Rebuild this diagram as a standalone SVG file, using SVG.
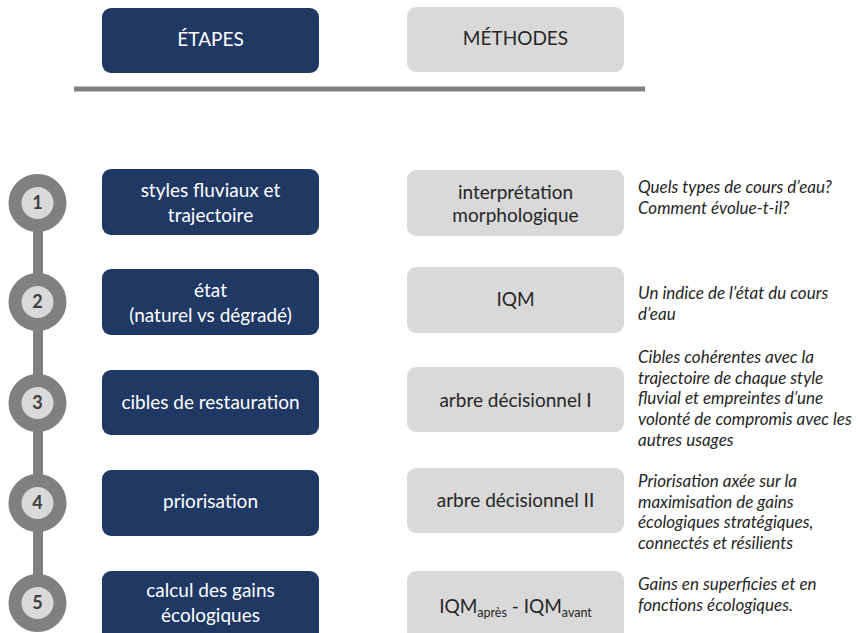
<svg xmlns="http://www.w3.org/2000/svg" width="859" height="633" viewBox="0 0 859 633">
<style>
.step{fill:#203864}
.meth{fill:#d9d9d9}
.st{font-family:Lato,"Open Sans",sans-serif;font-size:19px;fill:#ffffff;text-anchor:middle}
.mt{font-family:Lato,"Open Sans",sans-serif;font-size:19px;fill:#262626;text-anchor:middle}
.ds{font-family:Lato,"Open Sans",sans-serif;font-size:17px;font-style:italic;fill:#262626}
.num{font-family:Lato,"Open Sans",sans-serif;font-size:18px;font-weight:bold;fill:#404040;text-anchor:middle}
.ring{fill:#d9d9d9;stroke:#808080;stroke-width:13}
</style>
<rect width="859" height="633" fill="#ffffff"/>
<g id="header-etapes">
<rect class="step" x="102" y="8" width="217" height="65" rx="9"/>
<text class="st" x="210.5" y="46" font-size="17.5">ÉTAPES</text>
</g>
<g id="header-methodes">
<rect class="meth" x="407" y="7" width="217" height="65" rx="9"/>
<text class="mt" x="515.5" y="45" font-size="17.5">MÉTHODES</text>
</g>
<g id="connectors">
<line x1="74" y1="89" x2="645" y2="89" stroke="#808080" stroke-width="5"/>
<line x1="38" y1="203" x2="38" y2="603" stroke="#808080" stroke-width="10"/>
</g>
<g id="step1">
<circle class="ring" cx="37.5" cy="203" r="22.5"/>
<text class="num" x="37.5" y="209">1</text>
<rect class="step" x="102" y="169" width="217" height="66" rx="9"/>
<text class="st" x="210.5" y="197">styles fluviaux et</text>
<text class="st" x="210.5" y="222">trajectoire</text>
</g>
<g id="method1">
<rect class="meth" x="407" y="170" width="217" height="66" rx="9"/>
<text class="mt" x="515.5" y="199">interprétation</text>
<text class="mt" x="515.5" y="222">morphologique</text>
</g>
<g id="desc1">
<text class="ds" x="638" y="193">Quels types de cours d’eau?</text>
<text class="ds" x="638" y="214">Comment évolue-t-il?</text>
</g>
<g id="step2">
<circle class="ring" cx="37.5" cy="302" r="22.5"/>
<text class="num" x="37.5" y="308">2</text>
<rect class="step" x="102" y="269" width="217" height="66" rx="9"/>
<text class="st" x="210.5" y="297">état</text>
<text class="st" x="210.5" y="322">(naturel vs dégradé)</text>
</g>
<g id="method2">
<rect class="meth" x="407" y="267" width="217" height="66" rx="9"/>
<text class="mt" x="515.5" y="306">IQM</text>
</g>
<g id="desc2">
<text class="ds" x="638" y="299">Un indice de l’état du cours</text>
<text class="ds" x="638" y="320">d’eau</text>
</g>
<g id="step3">
<circle class="ring" cx="37.5" cy="403" r="22.5"/>
<text class="num" x="37.5" y="409">3</text>
<rect class="step" x="102" y="370" width="217" height="65" rx="9"/>
<text class="st" x="210.5" y="409">cibles de restauration</text>
</g>
<g id="method3">
<rect class="meth" x="407" y="367" width="217" height="65" rx="9"/>
<text class="mt" x="515.5" y="407">arbre décisionnel I</text>
</g>
<g id="desc3">
<text class="ds" x="638" y="363">Cibles cohérentes avec la</text>
<text class="ds" x="638" y="384">trajectoire de chaque style</text>
<text class="ds" x="638" y="404">fluvial et empreintes d’une</text>
<text class="ds" x="638" y="425">volonté de compromis avec les</text>
<text class="ds" x="638" y="446">autres usages</text>
</g>
<g id="step4">
<circle class="ring" cx="37.5" cy="503" r="22.5"/>
<text class="num" x="37.5" y="509">4</text>
<rect class="step" x="102" y="470" width="217" height="66" rx="9"/>
<text class="st" x="210.5" y="508">priorisation</text>
</g>
<g id="method4">
<rect class="meth" x="407" y="468" width="217" height="65" rx="9"/>
<text class="mt" x="515.5" y="507">arbre décisionnel II</text>
</g>
<g id="desc4">
<text class="ds" x="638" y="487">Priorisation axée sur la</text>
<text class="ds" x="638" y="508">maximisation de gains</text>
<text class="ds" x="638" y="528">écologiques stratégiques,</text>
<text class="ds" x="638" y="549">connectés et résilients</text>
</g>
<g id="step5">
<circle class="ring" cx="37.5" cy="603" r="22.5"/>
<text class="num" x="37.5" y="609">5</text>
<rect class="step" x="102" y="571" width="217" height="70" rx="9"/>
<text class="st" x="210.5" y="597">calcul des gains</text>
<text class="st" x="210.5" y="622">écologiques</text>
</g>
<g id="method5">
<rect class="meth" x="407" y="571" width="217" height="70" rx="9"/>
<text class="mt" x="515.5" y="613">IQM<tspan font-size="12.5" dy="4">après</tspan><tspan dy="-4"> - IQM</tspan><tspan font-size="12.5" dy="4">avant</tspan></text>
</g>
<g id="desc5">
<text class="ds" x="638" y="590">Gains en superficies et en</text>
<text class="ds" x="638" y="611">fonctions écologiques.</text>
</g>
</svg>
